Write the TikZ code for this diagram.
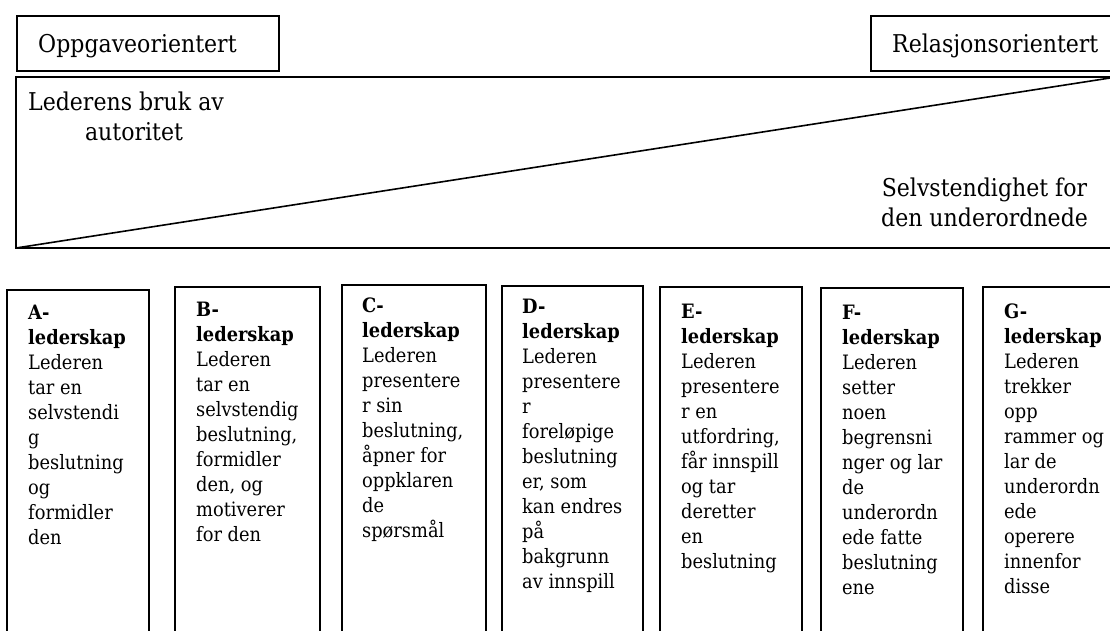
\documentclass[tikz,border=0pt]{standalone}
\usepackage{fontspec}
\setmainfont{DejaVu Serif Condensed}
\newcommand\colln[1]{\hbox{#1}}
\newcommand\ctrln[1]{\hbox to 0pt{\hss #1\hss}}
\newcommand\stack[2]{\vtop{\baselineskip=#1\lineskip=0pt\lineskiplimit=-100pt #2}}
\tikzset{
  frame/.style={draw, line width=1.6pt},
  boxnode/.style={draw, line width=1.6pt, rectangle, inner sep=0pt, anchor=north west},
  coltxt/.style={anchor=base west, inner sep=0pt, font=\fontsize{19.8}{25}\selectfont},
  toptxt/.style={inner sep=0pt, font=\fontsize{24.5}{30}\selectfont},
}
\begin{document}
\begin{tikzpicture}[x=1pt,y=-1pt]
\useasboundingbox (0,0) rectangle (1110,630);
\clip (0,0) rectangle (1110,630);
\fill[white] (0,0) rectangle (1110,630);

% top boxes
\node[boxnode, minimum width=262pt, minimum height=55pt] (oppgbox) at (16,15) {};
\node[toptxt, anchor=base west] (oppg) at (38,52) {Oppgaveorientert};
\node[boxnode, minimum width=260pt, minimum height=55pt] (relbox) at (870,15) {};
\node[toptxt, anchor=base west] (rel) at (892,52) {Relasjonsorientert};

% big frame with diagonal
\coordinate (tl) at (16,77);
\coordinate (bl) at (16,248);
\coordinate (tr) at (1125,77);
\coordinate (br) at (1125,248);
\coordinate (diagend) at (1110,78);
\draw[frame] (tr) -- (tl) -- (bl) -- (br);
\draw[frame] (bl) -- (diagend);

\node[toptxt, anchor=base] (autoritet) at (126,110)
  {\stack{30pt}{\ctrln{Lederens bruk av}\ctrln{\hskip16pt autoritet}}};
\node[toptxt, anchor=base] (selvst) at (984.5,196.7)
  {\stack{30pt}{\ctrln{Selvstendighet for}\ctrln{den underordnede}}};

% column boxes (open at the bottom)
\draw[frame] (7,640) |- (149,290) -- (149,640);
\draw[frame] (175,640) |- (320,287) -- (320,640);
\draw[frame] (342,640) |- (486,285) -- (486,640);
\draw[frame] (502,640) |- (643,286) -- (643,640);
\draw[frame] (660,640) |- (802,287) -- (802,640);
\draw[frame] (821,640) |- (963,288) -- (963,640);
\draw[frame] (983,640) |- (1130,287) -- (1130,640);

\node[coltxt] (colA) at (28,319.5) {\stack{25pt}{%
  \colln{\textbf{A-}}\colln{\textbf{lederskap}}\colln{Lederen}\colln{tar en}%
  \colln{selvstendi}\colln{g}\colln{beslutning}\colln{og}\colln{formidler}\colln{den}}};
\node[coltxt] (colB) at (196,316) {\stack{25pt}{%
  \colln{\textbf{B-}}\colln{\textbf{lederskap}}\colln{Lederen}\colln{tar en}%
  \colln{selvstendig}\colln{beslutning,}\colln{formidler}\colln{den, og}\colln{motiverer}\colln{for den}}};
\node[coltxt] (colC) at (362,312) {\stack{25pt}{%
  \colln{\textbf{C-}}\colln{\textbf{lederskap}}\colln{Lederen}\colln{presentere}%
  \colln{r sin}\colln{beslutning,}\colln{åpner for}\colln{oppklaren}\colln{de}\colln{spørsmål}}};
\node[coltxt] (colD) at (522,313.5) {\stack{25pt}{%
  \colln{\textbf{D-}}\colln{\textbf{lederskap}}\colln{Lederen}\colln{presentere}%
  \colln{r}\colln{foreløpige}\colln{beslutning}\colln{er, som}\colln{kan endres}\colln{på}%
  \colln{bakgrunn}\colln{av innspill}}};
\node[coltxt] (colE) at (681,318.5) {\stack{25pt}{%
  \colln{\textbf{E-}}\colln{\textbf{lederskap}}\colln{Lederen}\colln{presentere}%
  \colln{r en}\colln{utfordring,}\colln{får innspill}\colln{og tar}\colln{deretter}\colln{en}%
  \colln{beslutning}}};
\node[coltxt] (colF) at (842,319.5) {\stack{25pt}{%
  \colln{\textbf{F-}}\colln{\textbf{lederskap}}\colln{Lederen}\colln{setter}%
  \colln{noen}\colln{begrensni}\colln{nger og lar}\colln{de}\colln{underordn}\colln{ede fatte}%
  \colln{beslutning}\colln{ene}}};
\node[coltxt] (colG) at (1004,318.5) {\stack{25pt}{%
  \colln{\textbf{G-}}\colln{\textbf{lederskap}}\colln{Lederen}\colln{trekker}%
  \colln{opp}\colln{rammer og}\colln{lar de}\colln{underordn}\colln{ede}\colln{operere}%
  \colln{innenfor}\colln{disse}}};
\end{tikzpicture}
\end{document}
